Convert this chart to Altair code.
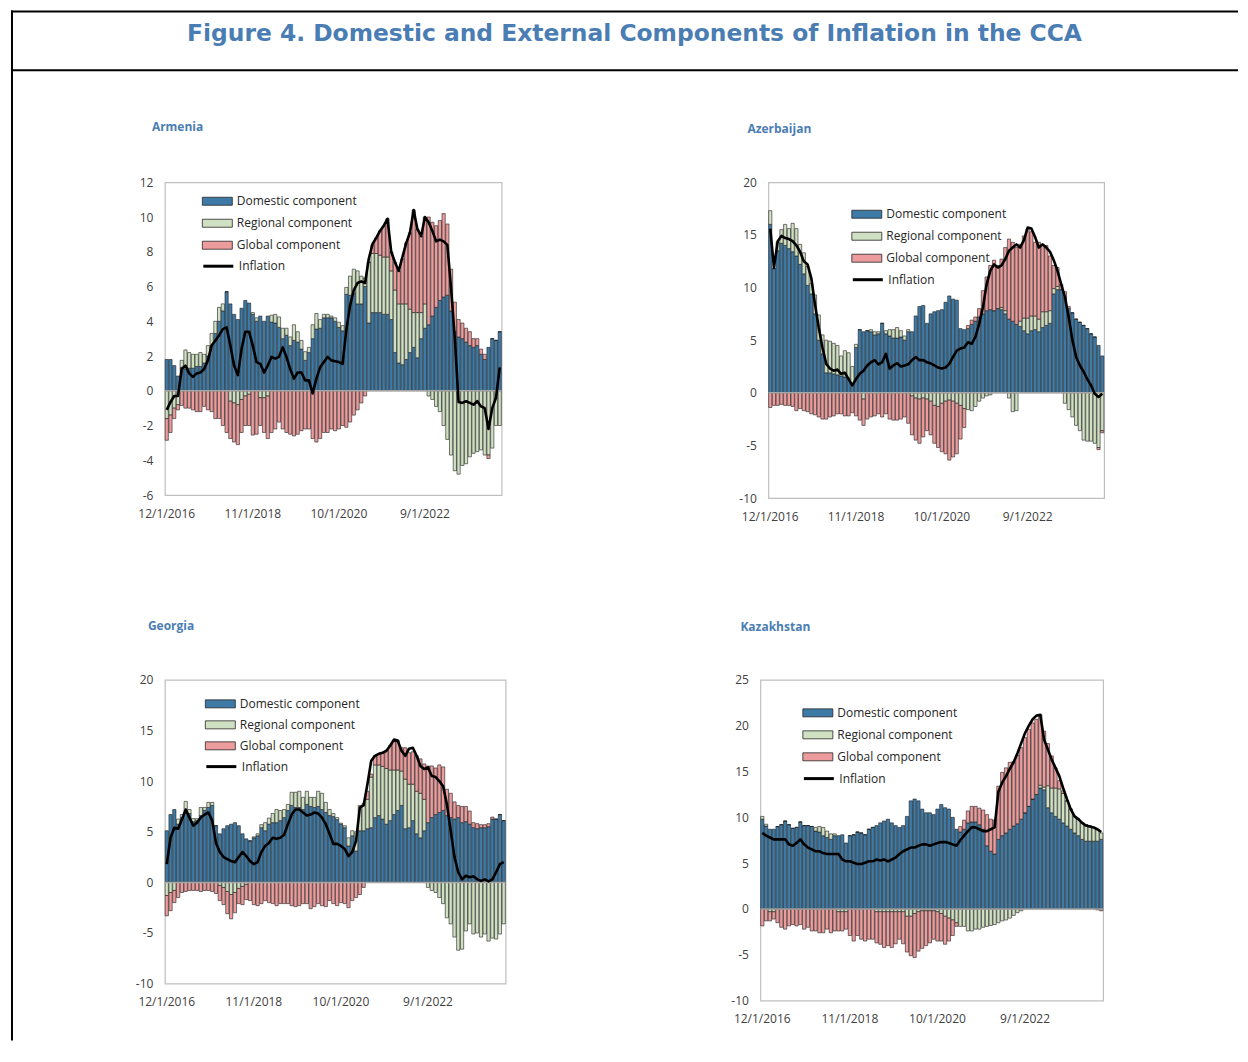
import altair as alt
import pandas as pd

TITLE = "Figure 4. Domestic and External Components of Inflation in the CCA"
MONTHS = [f"{d.month}/1/{d.year}" for d in pd.date_range("2016-12-01", periods=90, freq="MS")]
TICK_LABELS = ["12/1/2016", "11/1/2018", "10/1/2020", "9/1/2022"]
COMPONENTS = ["Domestic component", "Regional component", "Global component"]
COMP_COLORS = ["#3e7aa6", "#d0e0c2", "#ec9c9c"]
BLUE = "#4a7db3"
AFONT = "Open Sans"
TFONT = "DejaVu Sans"

# ---------------- Armenia ----------------
ARM_DOM = [1.8, 1.8, 1.45, 0.85, 1.35, 1.25, 1.3, 1.3, 1.4, 1.4,
           1.6, 2.0, 2.6, 3.3, 4.0, 4.6, 5.7, 5.0, 4.4, 4.1,
           4.75, 5.2, 5.05, 4.4, 4.0, 4.3, 4.0, 4.3, 3.95, 3.9,
           3.65, 3.0, 3.2, 2.6, 2.9, 2.8, 2.4, 1.75, 2.2, 3.0,
           3.55, 3.6, 4.2, 4.2, 4.2, 4.0, 3.65, 3.45, 5.55, 5.5,
           5.6, 5.0, 5.0, 6.0, 3.9, 4.5, 4.5, 4.5, 4.4, 4.4,
           4.1, 2.2, 1.6, 1.5, 1.8, 2.2, 2.5, 1.9, 3.0, 3.6,
           3.8, 4.3, 4.8, 5.2, 5.4, 5.5, 4.6, 3.4, 3.1, 3.0,
           2.8, 2.6, 2.5, 2.6, 2.1, 1.8, 2.5, 3.0, 2.9, 3.4]
ARM_REG = [-1.6, -1.4, -1.0, -0.8, 0.4, 1.1, 0.9, 0.8, 0.7, 0.8,
           0.5, 0.6, 0.7, 0.7, 0.8, 0.4, 0.0, -0.6, -0.7, -0.8,
           -0.5, -0.3, -0.2, 0.1, 0.2, -0.4, -0.4, -0.3, 0.4, 0.5,
           0.6, 0.6, 0.4, 0.5, 0.9, 0.6, 0.5, 0.5, 0.3, 0.8,
           0.9, 0.5, 0.2, 0.2, 0.1, 0.2, 0.3, 0.3, 0.4, 1.1,
           1.4, 1.9, 1.6, 0.5, 3.5, 3.4, 3.4, 3.3, 3.3, 3.3,
           2.8, 3.6, 3.4, 3.5, 3.2, 2.5, 2.0, 2.6, 1.5, 1.4,
           -0.3, -0.5, -0.9, -1.2, -2.0, -2.8, -3.7, -4.6, -4.8, -4.3,
           -4.2, -3.8, -3.6, -3.5, -3.4, -3.7, -3.7, -3.3, -2.0, -2.0]
ARM_GLO = [-1.25, -1.0, -0.6, -0.3, -0.85, -1.0, -1.0, -1.1, -1.2, -1.2,
           -0.9, -1.1, -1.2, -1.6, -1.6, -2.0, -2.4, -2.15, -2.25, -2.3,
           -1.9, -1.7, -1.8, -2.55, -2.5, -1.6, -2.0, -2.45, -2.4, -2.2,
           -1.8, -2.2, -2.4, -2.5, -2.6, -2.5, -2.3, -2.2, -2.2, -2.75,
           -2.95, -2.75, -2.4, -2.4, -2.2, -2.3, -2.2, -2.0, -2.1, -1.8,
           -1.4, -1.1, -0.7, -0.3, 0.0, 0.5, 0.9, 1.4, 1.8, 2.2,
           1.1, 1.6, 1.9, 2.6, 3.5, 4.4, 5.9, 4.8, 4.4, 5.0,
           6.2, 5.4, 4.7, 4.6, 4.8, 4.1, 2.4, 1.7, 1.0, 0.9,
           0.8, 0.8, 0.5, 0.4, 0.3, 0.3, -0.2, 0.0, 0.0, 0.0]
ARM_INF = [-1.1, -0.65, -0.3, -0.3, 1.25, 1.45, 1.0, 0.8, 1.0, 1.05,
           1.25, 1.75, 2.6, 2.9, 3.2, 3.55, 3.65, 2.6, 1.45, 0.9,
           2.4, 3.4, 3.4, 2.6, 1.65, 1.55, 1.05, 1.45, 1.95, 1.85,
           1.95, 2.5, 1.95, 1.25, 0.7, 1.05, 1.05, 0.6, 0.6, -0.15,
           0.7, 1.35, 1.65, 1.95, 1.75, 1.7, 1.65, 1.55, 3.5, 4.9,
           5.8, 6.2, 6.3, 6.2, 7.6, 8.45, 8.8, 9.2, 9.5, 9.9,
           8.0, 7.4, 6.9, 7.7, 8.5, 9.1, 10.4, 9.3, 8.9, 10.0,
           9.7, 9.2, 8.6, 8.7, 8.6, 8.4, 5.9, 3.0, -0.65, -0.7,
           -0.6, -0.7, -0.8, -0.6, -0.9, -1.0, -2.2, -1.0, -0.4, 1.35]

# ---------------- Azerbaijan ----------------
AZE_DOM = [16.0, 11.8, 13.5, 14.2, 14.0, 13.7, 13.4, 13.0, 12.2, 11.3,
           10.2, 9.4, 7.5, 5.0, 3.7, 1.9, 1.9, 1.8, 1.7, 1.6,
           1.5, 1.4, 0.9, 4.3, 6.0, 5.8, 5.9, 5.8, 5.5, 5.6,
           6.6, 5.6, 5.4, 5.2, 5.2, 5.3, 5.0, 5.8, 5.8, 7.3,
           8.2, 8.3, 6.6, 7.5, 7.7, 7.8, 7.9, 8.6, 9.2, 8.9,
           8.8, 6.1, 6.0, 6.1, 6.5, 6.8, 7.2, 7.5, 7.8, 7.9,
           7.8, 8.0, 7.9, 7.5, 7.0, 6.8, 6.5, 6.3, 5.9, 5.6,
           5.9, 6.0, 5.8, 6.2, 6.4, 6.6, 9.4, 9.8, 9.8, 9.0,
           8.0, 7.6, 7.0, 6.7, 6.4, 6.1, 5.6, 5.3, 4.5, 3.5]
AZE_REG = [1.3, 0.0, 0.8, 1.3, 2.0, 1.9, 2.7, 2.6, 1.9, 2.0,
           1.8, 1.0, 1.8, 2.4, 1.8, 3.1, 3.0, 2.9, 2.8, 1.9,
           2.5, 2.4, 1.6, 0.3, 0.0, -0.6, 0.0, 0.2, 0.3, 0.2,
           0.0, 0.3, 0.6, 0.8, 1.0, 0.6, 0.4, 0.2, -0.3, -0.5,
           -0.6, -0.5, -0.6, -0.8, -1.2, -1.3, -1.0, -0.8, -0.7, -0.8,
           -1.0, -1.2, -1.5, -1.6, -1.7, -1.3, -0.8, -0.5, -0.3, -0.2,
           0.0, 0.0, 0.2, 0.3, -0.5, -1.8, -1.7, 0.5, 1.2, 1.5,
           1.4, 1.3, 1.2, 1.5, 1.3, 1.2, 0.5, 0.3, 0.0, -1.0,
           -1.6, -2.3, -3.1, -3.6, -4.5, -4.6, -4.6, -4.8, -5.2, -3.6]
AZE_GLO = [-1.4, -1.2, -1.2, -1.1, -1.2, -1.2, -1.3, -1.7, -1.5, -1.7,
           -1.8, -2.0, -2.1, -2.3, -2.5, -2.5, -2.3, -2.2, -2.0, -2.0,
           -2.2, -2.2, -1.9, -2.2, -2.6, -2.5, -2.5, -2.3, -2.2, -2.0,
           -2.3, -2.0, -2.5, -2.6, -2.6, -2.5, -2.3, -2.9, -3.7, -4.0,
           -4.2, -3.7, -3.0, -3.2, -3.6, -3.9, -4.6, -5.0, -5.7, -5.3,
           -4.8, -3.2, -1.8, 0.3, 0.4, 0.4, 0.8, 2.2, 3.2, 4.2,
           4.8, 4.1, 4.6, 6.0, 7.6, 7.5, 7.3, 7.3, 7.8, 8.5,
           8.0, 7.0, 7.3, 6.4, 6.3, 5.2, 2.2, 1.8, 0.5, 0.6,
           0.2, 0.0, 0.0, 0.0, 0.0, 0.0, 0.0, 0.0, -0.2, -0.2]
AZE_INF = [15.6, 11.9, 14.4, 14.9, 14.7, 14.6, 14.4, 14.0, 13.4, 12.5,
           12.2, 10.9, 8.4, 6.2, 4.3, 2.75, 2.3, 2.1, 2.2, 1.8,
           1.9, 1.3, 0.7, 1.3, 1.8, 2.1, 2.6, 2.9, 3.1, 2.7,
           2.9, 3.7, 2.3, 2.6, 2.8, 2.5, 2.6, 2.7, 3.1, 3.4,
           3.1, 3.1, 2.9, 2.8, 2.6, 2.4, 2.3, 2.4, 2.75, 3.4,
           4.0, 4.2, 4.3, 4.8, 4.65, 5.3, 6.55, 8.1, 10.3, 11.6,
           12.2, 11.9, 12.1, 12.7, 13.5, 13.8, 14.1, 13.8, 14.5, 15.7,
           15.6, 14.8, 13.8, 14.1, 13.8, 13.4, 12.6, 11.6, 10.3, 9.1,
           7.2, 5.0, 3.4, 2.6, 2.0, 1.3, 0.7, -0.1, -0.4, -0.1]

# ---------------- Georgia ----------------
GEO_DOM = [5.1, 6.7, 7.2, 5.75, 6.4, 6.8, 6.8, 6.0, 6.1, 6.6,
           7.1, 7.4, 7.6, 5.6, 4.8, 5.3, 5.6, 5.75, 5.9, 5.6,
           4.8, 4.3, 4.1, 4.4, 4.6, 5.4, 5.1, 5.75, 5.9, 5.9,
           6.1, 6.4, 7.1, 7.6, 7.4, 7.4, 7.2, 7.7, 7.5, 7.4,
           7.5, 7.2, 6.9, 6.6, 6.5, 6.2, 5.75, 5.4, 3.6, 4.6,
           3.1, 5.1, 5.1, 5.3, 5.4, 6.4, 6.6, 6.25, 5.75, 6.1,
           6.7, 7.1, 7.6, 5.3, 5.4, 6.1, 4.8, 4.4, 5.1, 5.9,
           6.4, 6.7, 6.9, 7.1, 6.6, 6.4, 6.25, 6.4, 5.9, 6.0,
           5.75, 5.4, 5.3, 5.4, 5.4, 5.5, 6.25, 6.25, 6.7, 6.1]
GEO_REG = [-1.3, -1.0, -0.8, 0.5, 0.3, 1.2, 0.4, 0.3, 0.2, 0.8,
           0.3, 0.5, 0.3, 0.0, -0.3, -0.5, -0.9, -1.2, -1.0, -0.6,
           -0.4, -0.2, 0.0, 0.1, 0.2, 0.3, 0.8, 0.6, 0.9, 1.3,
           1.0, 0.8, 0.6, 1.3, 1.5, 1.6, 1.2, 1.3, 0.9, 1.0,
           1.5, 1.6, 1.0, 0.6, 0.3, 0.2, 0.1, 0.2, 0.8, 0.5,
           1.9, 2.5, 2.7, 2.9, 5.0, 5.2, 5.0, 5.2, 5.5, 5.0,
           4.4, 4.0, 3.4, 4.9, 4.3, 3.6, 4.2, 4.4, 3.1, -0.5,
           -0.8, -1.0, -1.5, -2.1, -3.5, -4.1, -5.4, -6.7, -6.6, -4.8,
           -4.1, -5.1, -5.0, -5.4, -5.1, -5.8, -5.5, -5.6, -5.1, -4.1]
GEO_GLO = [-2.0, -1.8, -1.2, -1.5, -1.0, -0.9, -0.8, -0.8, -0.8, -0.9,
           -0.8, -0.8, -0.9, -1.1, -1.5, -1.7, -2.2, -2.4, -2.0, -1.5,
           -1.8, -1.5, -1.8, -2.2, -2.3, -2.1, -1.8, -2.0, -2.1, -2.3,
           -2.1, -2.1, -2.1, -2.3, -2.4, -2.3, -2.1, -2.1, -2.6, -2.4,
           -2.1, -2.3, -2.4, -1.8, -2.1, -2.3, -2.0, -2.1, -2.5, -1.8,
           -1.5, -1.2, -0.5, 0.8, 0.3, 0.9, 1.1, 1.3, 1.7, 2.4,
           2.8, 2.9, 2.3, 3.1, 3.1, 3.2, 3.5, 3.4, 3.5, 5.6,
           5.1, 4.6, 4.7, 4.3, 2.6, 2.4, 1.7, 1.2, 1.6, 1.5,
           1.3, 0.5, 0.5, 0.3, 0.3, 0.3, 0.2, 0.0, 0.0, 0.0]
GEO_INF = [1.8, 4.4, 5.4, 5.3, 6.2, 7.2, 6.4, 5.6, 5.9, 6.4,
           6.7, 6.9, 6.1, 3.9, 3.0, 2.5, 2.3, 2.1, 2.0, 2.5,
           3.0, 2.6, 2.1, 1.8, 2.0, 3.0, 3.6, 3.9, 4.4, 4.3,
           4.4, 4.7, 5.75, 6.7, 7.2, 7.2, 6.9, 6.6, 6.7, 6.9,
           6.8, 6.4, 5.75, 4.8, 3.8, 3.8, 3.6, 3.3, 2.6, 3.0,
           4.1, 7.4, 7.6, 9.7, 12.0, 12.5, 12.7, 12.8, 13.0, 13.5,
           14.1, 14.0, 13.0, 12.5, 13.2, 13.3, 12.5, 11.5, 11.2, 11.35,
           10.5, 10.4, 10.0, 9.5, 7.7, 5.1, 2.5, 1.0, 0.3, 0.65,
           0.5, 0.6, 0.3, 0.15, 0.3, 0.1, 0.3, 1.0, 1.8, 2.0]

# ---------------- Kazakhstan ----------------
KAZ_DOM = [9.8, 9.05, 8.7, 8.7, 9.0, 9.2, 9.6, 9.2, 8.8, 8.9,
           9.5, 9.1, 9.1, 9.0, 8.5, 8.4, 8.0, 7.8, 7.6, 8.0,
           8.0, 8.1, 7.2, 8.0, 8.1, 8.4, 8.3, 8.1, 8.7, 8.9,
           9.1, 9.4, 9.6, 9.8, 9.4, 9.1, 8.9, 9.1, 10.1, 11.8,
           12.0, 11.8, 10.9, 10.5, 10.5, 10.3, 10.9, 11.4, 11.05, 10.9,
           10.0, 8.7, 8.4, 8.7, 9.4, 9.5, 9.5, 9.2, 8.7, 6.9,
           6.3, 6.0, 7.6, 8.0, 8.3, 8.7, 9.05, 9.3, 9.8, 10.5,
           11.2, 12.0, 12.5, 13.2, 13.0, 11.05, 10.5, 10.1, 9.8, 9.4,
           9.05, 8.7, 8.3, 8.0, 7.6, 7.4, 7.4, 7.4, 7.4, 7.6]
KAZ_REG = [0.3, 0.2, -0.3, -0.3, 0.0, 0.0, 0.0, 0.0, 0.0, 0.0,
           0.0, 0.0, 0.0, 0.0, 0.4, 0.6, 0.9, 0.7, 0.6, 0.2,
           -0.3, -0.3, -0.3, 0.0, 0.0, 0.0, 0.0, 0.0, 0.0, 0.0,
           -0.3, -0.3, -0.3, -0.3, -0.3, -0.3, -0.3, -0.3, -0.8, -0.8,
           -0.5, -0.3, -0.2, -0.2, -0.2, -0.2, -0.3, -0.5, -0.8, -1.0,
           -1.2, -1.5, -1.9, -1.9, -2.4, -2.4, -2.2, -2.2, -2.0, -1.9,
           -1.8, -1.7, -1.5, -1.3, -1.2, -1.0, -0.7, -0.4, -0.2, 0.0,
           0.0, 0.0, 0.0, 0.3, 0.3, 2.4, 2.7, 3.1, 3.3, 3.2,
           2.75, 2.2, 1.8, 1.8, 1.8, 1.8, 1.65, 1.5, 1.3, 0.7]
KAZ_GLO = [-1.85, -1.3, -1.0, -0.8, -1.5, -2.0, -2.2, -1.85, -1.7, -1.85,
           -1.7, -2.2, -2.0, -2.4, -2.4, -2.6, -2.6, -2.2, -2.6, -2.4,
           -2.1, -2.1, -1.9, -2.9, -3.5, -2.9, -3.3, -3.5, -3.3, -3.3,
           -3.4, -3.55, -3.9, -3.7, -3.9, -3.5, -3.0, -3.5, -3.9, -4.3,
           -4.8, -4.3, -4.1, -3.8, -3.5, -3.1, -3.2, -3.0, -3.05, -2.5,
           -1.7, -0.4, 0.6, 1.0, 1.3, 1.7, 1.7, 1.8, 2.1, 3.4,
           3.5, 3.7, 5.8, 6.9, 7.1, 7.3, 7.05, 7.5, 7.8, 8.2,
           8.4, 8.3, 8.2, 7.7, 6.1, 4.6, 3.5, 2.2, 0.9, 0.3,
           0.0, 0.0, 0.0, 0.0, 0.0, 0.0, 0.0, 0.0, -0.1, -0.2]
KAZ_INF = [8.3, 8.0, 7.8, 7.6, 7.6, 7.6, 7.6, 7.05, 6.9, 7.2,
           7.6, 7.05, 6.7, 6.5, 6.3, 6.3, 6.1, 6.0, 6.0, 6.0,
           6.0, 5.4, 5.2, 5.2, 5.05, 4.9, 4.9, 5.05, 5.2, 5.2,
           5.4, 5.3, 5.4, 5.2, 5.4, 5.6, 6.0, 6.3, 6.5, 6.7,
           6.7, 6.9, 7.05, 7.05, 6.9, 7.05, 7.2, 7.3, 7.3, 7.2,
           7.05, 6.9, 7.5, 8.0, 8.5, 8.9, 8.9, 8.7, 8.5, 8.5,
           8.7, 8.9, 12.8, 13.8, 14.5, 15.3, 16.0, 17.0, 18.1, 19.2,
           20.0, 20.7, 21.1, 21.2, 18.5, 17.4, 16.3, 15.4, 14.5, 13.2,
           12.0, 10.9, 10.1, 9.8, 9.4, 9.1, 9.0, 8.9, 8.7, 8.4]

BAR_SYMBOL = "M-1.5,-0.4L1.5,-0.4L1.5,0.4L-1.5,0.4Z"
LINE_SYMBOL = "M-1.5,0L1.5,0"


def make_panel(name, dom, reg, glo, inf, ymin, ymax, ystep, w, h, lx, ly1, ly2, rowpad, tdx, toff):
    recs = []
    for k, (comp, vals) in enumerate(zip(COMPONENTS, (dom, reg, glo))):
        for m, v in zip(MONTHS, vals):
            recs.append({"month": m, "component": comp, "ord": k, "value": v})
    bars_df = pd.DataFrame(recs)
    inf_df = pd.DataFrame({"month": MONTHS, "series": ["Inflation"] * len(MONTHS), "value": inf})
    zero_df = pd.DataFrame({"value": [0]})

    xenc = alt.X("month:O", sort=MONTHS, title=None,
                 scale=alt.Scale(paddingInner=0.14, paddingOuter=0.07),
                 axis=alt.Axis(values=TICK_LABELS, labelAngle=0, domain=False, ticks=False,
                               labelPadding=13, labelOverlap=False))
    yscale = alt.Scale(domain=[ymin, ymax], nice=False, zero=False)
    yaxis = alt.Axis(values=list(range(ymin, ymax + 1, ystep)), grid=False, domain=False,
                     ticks=False, labelPadding=12, labelOverlap=False, labelFlush=False,
                     labelExpr="'' + datum.value")
    yenc = alt.Y("value:Q", title=None, scale=yscale, axis=yaxis)

    bars = alt.Chart(bars_df).mark_bar(stroke="#1f1f1f", strokeWidth=0.6).encode(
        x=xenc,
        y=alt.Y("value:Q", stack="zero", title=None, scale=yscale, axis=yaxis),
        color=alt.Color("component:N",
                        scale=alt.Scale(domain=COMPONENTS, range=COMP_COLORS),
                        legend=alt.Legend(title=None, orient="none", legendX=lx, legendY=ly1,
                                          symbolType=BAR_SYMBOL, symbolSize=400,
                                          symbolStrokeColor="#262626", symbolStrokeWidth=0.8,
                                          symbolOpacity=1, rowPadding=rowpad)),
        order=alt.Order("ord:Q"),
    )
    zero = alt.Chart(zero_df).mark_rule(color="#a6a6a6", strokeWidth=1.5).encode(y=yenc)
    line = alt.Chart(inf_df).mark_line(strokeWidth=2.6, strokeJoin="round").encode(
        x=xenc,
        y=yenc,
        stroke=alt.Stroke("series:N",
                          scale=alt.Scale(domain=["Inflation"], range=["#000000"]),
                          legend=alt.Legend(title=None, orient="none", legendX=lx, legendY=ly2,
                                            symbolType=LINE_SYMBOL, symbolSize=400,
                                            symbolStrokeWidth=3)),
    )
    return alt.layer(bars, zero, line).properties(
        width=w, height=h,
        title=alt.Title(name, anchor="start", frame="group", dx=tdx, offset=toff,
                        fontSize=12, fontWeight="bold", color=BLUE, font=AFONT),
    )


arm = make_panel("Armenia", ARM_DOM, ARM_REG, ARM_GLO, ARM_INF, -6, 12, 2, 337, 313,
                 42, 8.5, 72.5, 5, -13, 42)
aze = make_panel("Azerbaijan", AZE_DOM, AZE_REG, AZE_GLO, AZE_INF, -10, 20, 5, 336, 316,
                 88, 21.5, 86.0, 5, -21, 40)
geo = make_panel("Georgia", GEO_DOM, GEO_REG, GEO_GLO, GEO_INF, -10, 20, 5, 341, 304,
                 45, 13.5, 75.3, 4, -17, 41)
kaz = make_panel("Kazakhstan", KAZ_DOM, KAZ_REG, KAZ_GLO, KAZ_INF, -10, 25, 5, 343, 321,
                 47, 22.5, 87.3, 5, -20, 40)

# ---------------- figure frame and title ----------------
head = alt.Chart(pd.DataFrame({"t": [TITLE]}))
frame_top = head.mark_rule(color="black", strokeWidth=2, strokeCap="square").encode(
    x=alt.value(-153), x2=alt.value(1073), y=alt.value(0))
frame_mid = head.mark_rule(color="black", strokeWidth=2, strokeCap="square").encode(
    x=alt.value(-153), x2=alt.value(1073), y=alt.value(59))
frame_left = head.mark_rule(color="black", strokeWidth=2, strokeCap="square").encode(
    x=alt.value(-153), y=alt.value(0), y2=alt.value(1029))
title_text = head.mark_text(font=TFONT, fontSize=23.4, fontWeight="bold", color=BLUE,
                            align="center", baseline="middle").encode(
    text="t:N", x=alt.value(470), y=alt.value(23))
title_chart = alt.layer(frame_top, frame_mid, frame_left, title_text).properties(
    width=337, height=59, view=alt.ViewBackground(stroke="transparent"))


def indep(c):
    return c.resolve_scale(x="independent", y="independent", color="independent",
                           stroke="independent").resolve_legend(color="independent",
                                                                 stroke="independent")


row1 = indep(alt.hconcat(arm, aze, spacing=267, bounds="flush"))
row2 = indep(alt.hconcat(geo, kaz, spacing=255, bounds="flush"))
grid = indep(alt.vconcat(row1, row2, spacing=498, bounds="flush"))
chart = indep(alt.vconcat(title_chart, grid, spacing=112, bounds="flush")).properties(
    padding={"left": 1, "top": 0, "right": 0, "bottom": 0}
).configure_view(
    stroke="#bfbfbf", strokeWidth=1.2
).configure_axis(
    labelFont=AFONT, labelFontSize=12, labelColor="#404040"
).configure_legend(
    labelFont=AFONT, labelFontSize=12, labelColor="#262626", padding=0, rowPadding=5,
    labelOffset=9
)

chart.save("out.html", embed_options={"renderer": "svg", "actions": False})
